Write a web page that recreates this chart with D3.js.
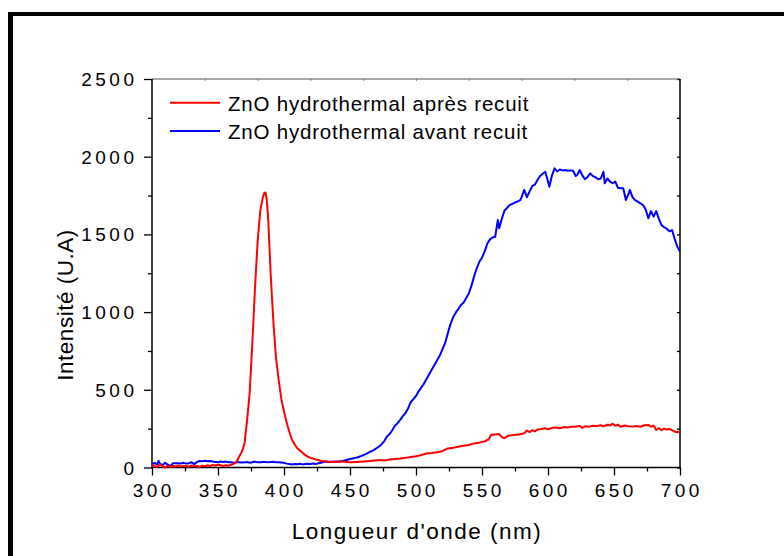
<!DOCTYPE html>
<html><head><meta charset="utf-8">
<script src="https://cdn.jsdelivr.net/npm/d3@7"></script>
<style>html,body{margin:0;padding:0;background:#fff;}svg{display:block;}</style>
</head><body>
<script>
// Red: ZnO hydrothermal après recuit
const wlRed = [300,302,304,306,308,310,312,314,316,318,320,322,324,326,328,330,332,334,336,338,340,342,344,346,348,350,352,354,356,358,360,362,364,366,368,370,372,374,376,378,380,382,384,385,386,387,388,389,390,392,394,396,398,400,402,404,406,408,410,412,414,416,418,420,422,424,426,428,430,432,434,436,438,440,442,444,446,448,450,455,460,465,470,473,476,480,484,488,492,496,500,504,508,512,516,520,524,528,532,536,540,544,548,552,555,557,560,563,565,567,570,574,578,582,584,586,588,590,592,595,598,600,603,606,609,612,615,618,621,624,626,628,631,634,637,640,642,645,647,649,651,653,655,658,661,664,667,670,673,676,678,680,682,684,686,688,690,692,695,697,700];
const valRed = [16,10,5,20,8,0,12,4,10,8,14,6,12,10,4,14,8,10,2,12,8,14,10,16,12,18,14,10,14,12,18,25,35,70,100,150,300,480,800,1150,1450,1650,1740,1765,1770,1720,1600,1420,1230,930,700,560,440,360,290,230,180,150,125,110,95,80,70,62,58,52,48,42,40,38,36,37,35,38,36,40,37,35,33,36,38,42,46,48,45,52,55,58,62,68,72,80,90,93,98,105,123,127,133,140,145,155,160,168,180,210,213,215,195,188,205,209,212,220,238,228,240,232,245,248,252,246,255,258,252,260,258,263,262,268,255,265,263,268,267,272,265,275,270,282,268,276,262,270,266,263,267,262,272,274,262,270,242,254,240,250,245,248,235,228,228];
// Blue: ZnO hydrothermal avant recuit
const wlBlue = [300,302,304,305,306,308,310,312,314,316,318,320,322,324,326,328,330,332,334,336,338,340,342,344,346,348,350,352,354,356,358,360,362,364,366,368,370,372,374,376,378,380,382,384,386,388,390,392,394,396,398,400,402,404,406,408,410,412,414,416,418,420,422,424,426,428,430,432,434,436,438,440,442,444,446,448,450,452,454,456,458,460,462,464,466,468,470,472,474,476,478,480,482,484,486,488,490,492,494,496,498,500,502,504,506,508,510,512,514,516,518,520,522,524,526,528,530,532,534,536,538,540,542,544,546,548,550,552,554,556,558,560,562,563,565,567,569,571,573,575,577,579,580,582,584,586,588,590,592,594,596,598,600,601,603,605,607,609,611,613,615,617,619,621,622,624,626,628,630,632,634,636,638,640,642,643,645,647,649,651,653,655,657,659,661,662,664,666,668,670,672,674,676,678,680,682,684,686,688,690,692,694,696,698,700];
const valBlue = [16,30,20,42,25,15,30,18,10,28,27,27,26,30,25,28,34,22,35,42,40,44,40,42,38,36,34,38,36,38,33,34,30,33,34,32,33,35,31,34,38,33,34,36,35,33,35,37,33,34,32,30,25,22,20,22,21,24,20,22,24,23,26,22,28,30,35,38,37,36,38,37,40,42,45,50,55,58,62,66,72,80,86,95,104,112,124,135,150,170,200,215,240,268,285,306,330,350,380,420,440,460,490,515,540,570,600,630,660,690,720,760,800,860,920,965,995,1020,1045,1060,1090,1120,1170,1230,1282,1324,1350,1389,1440,1468,1480,1485,1593,1539,1600,1652,1670,1690,1696,1705,1712,1721,1740,1786,1739,1775,1810,1820,1850,1876,1890,1903,1840,1807,1880,1925,1905,1918,1912,1914,1910,1912,1910,1876,1880,1914,1880,1855,1870,1893,1875,1868,1855,1860,1903,1829,1860,1840,1829,1840,1800,1797,1797,1721,1760,1786,1740,1720,1711,1700,1689,1660,1604,1650,1614,1650,1600,1560,1546,1535,1520,1528,1470,1421,1389];

const xTicks = [300,350,400,450,500,550,600,650,700];
const yTicks = [0,500,1000,1500,2000,2500];
const legendLabels = ["ZnO hydrothermal après recuit","ZnO hydrothermal avant recuit"];
const xTitle = "Longueur d'onde (nm)";
const yTitle = "Intensité (U.A)";

const W = 784, H = 556;
const m = {left:152, right:680, top:79, bottom:467.5};
const svg = d3.select("body").append("svg").attr("width",W).attr("height",H)
  .style("font-family","'Liberation Sans', Arial, sans-serif");
svg.append("rect").attr("width",W).attr("height",H).attr("fill","#fff");
// frame
svg.append("rect").attr("x",8).attr("y",12).attr("width",W).attr("height",4).attr("fill","#000");
svg.append("rect").attr("x",8).attr("y",12).attr("width",5).attr("height",H).attr("fill","#000");

const x = d3.scaleLinear().domain([300,700]).range([m.left,m.right]);
const y = d3.scaleLinear().domain([0,2500]).range([m.bottom,m.top]);

const axStyle = g => { g.select(".domain").remove(); g.selectAll("line").attr("stroke","#000").attr("stroke-width",1.3); g.selectAll("text").remove(); };

// bottom ticks minor & major
svg.append("g").attr("transform",`translate(0,${m.bottom})`)
  .call(d3.axisBottom(x).tickValues(d3.range(325,700,50)).tickSize(4)).call(axStyle);
svg.append("g").attr("transform",`translate(0,${m.bottom})`)
  .call(d3.axisBottom(x).tickValues(xTicks).tickSize(8)).call(axStyle);
// left ticks
svg.append("g").attr("transform",`translate(${m.left},0)`)
  .call(d3.axisLeft(y).tickValues(d3.range(250,2500,500)).tickSize(4)).call(axStyle);
svg.append("g").attr("transform",`translate(${m.left},0)`)
  .call(d3.axisLeft(y).tickValues(yTicks).tickSize(8)).call(axStyle);
// right ticks (inward)
svg.append("g").attr("transform",`translate(${m.right},0)`)
  .call(d3.axisLeft(y).tickValues(d3.range(0,2501,250)).tickSize(3)).call(axStyle);
// top ticks (inward, faint)
svg.append("g").attr("transform",`translate(0,${m.top})`)
  .call(d3.axisBottom(x).tickValues(d3.range(300,701,40)).tickSize(2)).call(axStyle)
  .selectAll("line").attr("stroke","#888").attr("stroke-width",1);

// box lines
svg.append("line").attr("x1",m.left).attr("x2",m.right).attr("y1",m.top).attr("y2",m.top).attr("stroke","#555").attr("stroke-width",1.2);
svg.append("line").attr("x1",m.right).attr("x2",m.right).attr("y1",m.top).attr("y2",m.bottom).attr("stroke","#000").attr("stroke-width",1.5);
svg.append("line").attr("x1",m.left).attr("x2",m.left).attr("y1",m.top).attr("y2",m.bottom+0.7).attr("stroke","#000").attr("stroke-width",1.5);
svg.append("line").attr("x1",m.left-0.7).attr("x2",m.right+0.7).attr("y1",m.bottom).attr("y2",m.bottom).attr("stroke","#000").attr("stroke-width",1.5);

// tick labels
const ls = 3.5;
svg.append("g").selectAll("text").data(xTicks).join("text")
  .attr("x",d=>x(d)+ls/2).attr("y",496.5).attr("text-anchor","middle")
  .attr("font-size",19).attr("letter-spacing",ls).attr("fill","#000").text(d=>d);
svg.append("g").selectAll("text").data(yTicks).join("text")
  .attr("x",134+ls).attr("y",d=>y(d)+7).attr("text-anchor","end")
  .attr("font-size",19).attr("letter-spacing",ls).attr("fill","#000").text(d=>d);

// titles
svg.append("text").attr("x",(m.left+m.right)/2+1).attr("y",539).attr("text-anchor","middle")
  .attr("font-size",22.5).attr("letter-spacing",1.5).attr("fill","#000").text(xTitle);
svg.append("text").attr("transform","translate(73,305) rotate(-90)").attr("text-anchor","middle")
  .attr("font-size",22.5).attr("letter-spacing",0.5).attr("fill","#000").text(yTitle);

// lines
const line = d3.line().x(d=>x(d[0])).y(d=>y(d[1]));
const clip = svg.append("clipPath").attr("id","c").append("rect")
  .attr("x",m.left).attr("y",m.top).attr("width",m.right-m.left).attr("height",m.bottom-m.top+2);
const g = svg.append("g").attr("clip-path","url(#c)");
g.append("path").datum(d3.zip(wlBlue,valBlue)).attr("d",line).attr("fill","none").attr("stroke","#0000ff").attr("stroke-width",2).attr("stroke-linejoin","round");
g.append("path").datum(d3.zip(wlRed,valRed)).attr("d",line).attr("fill","none").attr("stroke","#ff0000").attr("stroke-width",2).attr("stroke-linejoin","round");

// legend
const colors = ["#ff0000","#0000ff"];
const lg = svg.append("g");
legendLabels.forEach((t,i)=>{
  const yy = 102.7 + i*28.3;
  lg.append("line").attr("x1",170).attr("x2",220).attr("y1",yy).attr("y2",yy).attr("stroke",colors[i]).attr("stroke-width",2);
  lg.append("text").attr("x",228).attr("y",yy+7.8).attr("font-size",20.5).attr("letter-spacing",0.8).attr("fill","#000").text(t);
});
</script>
</body></html>
